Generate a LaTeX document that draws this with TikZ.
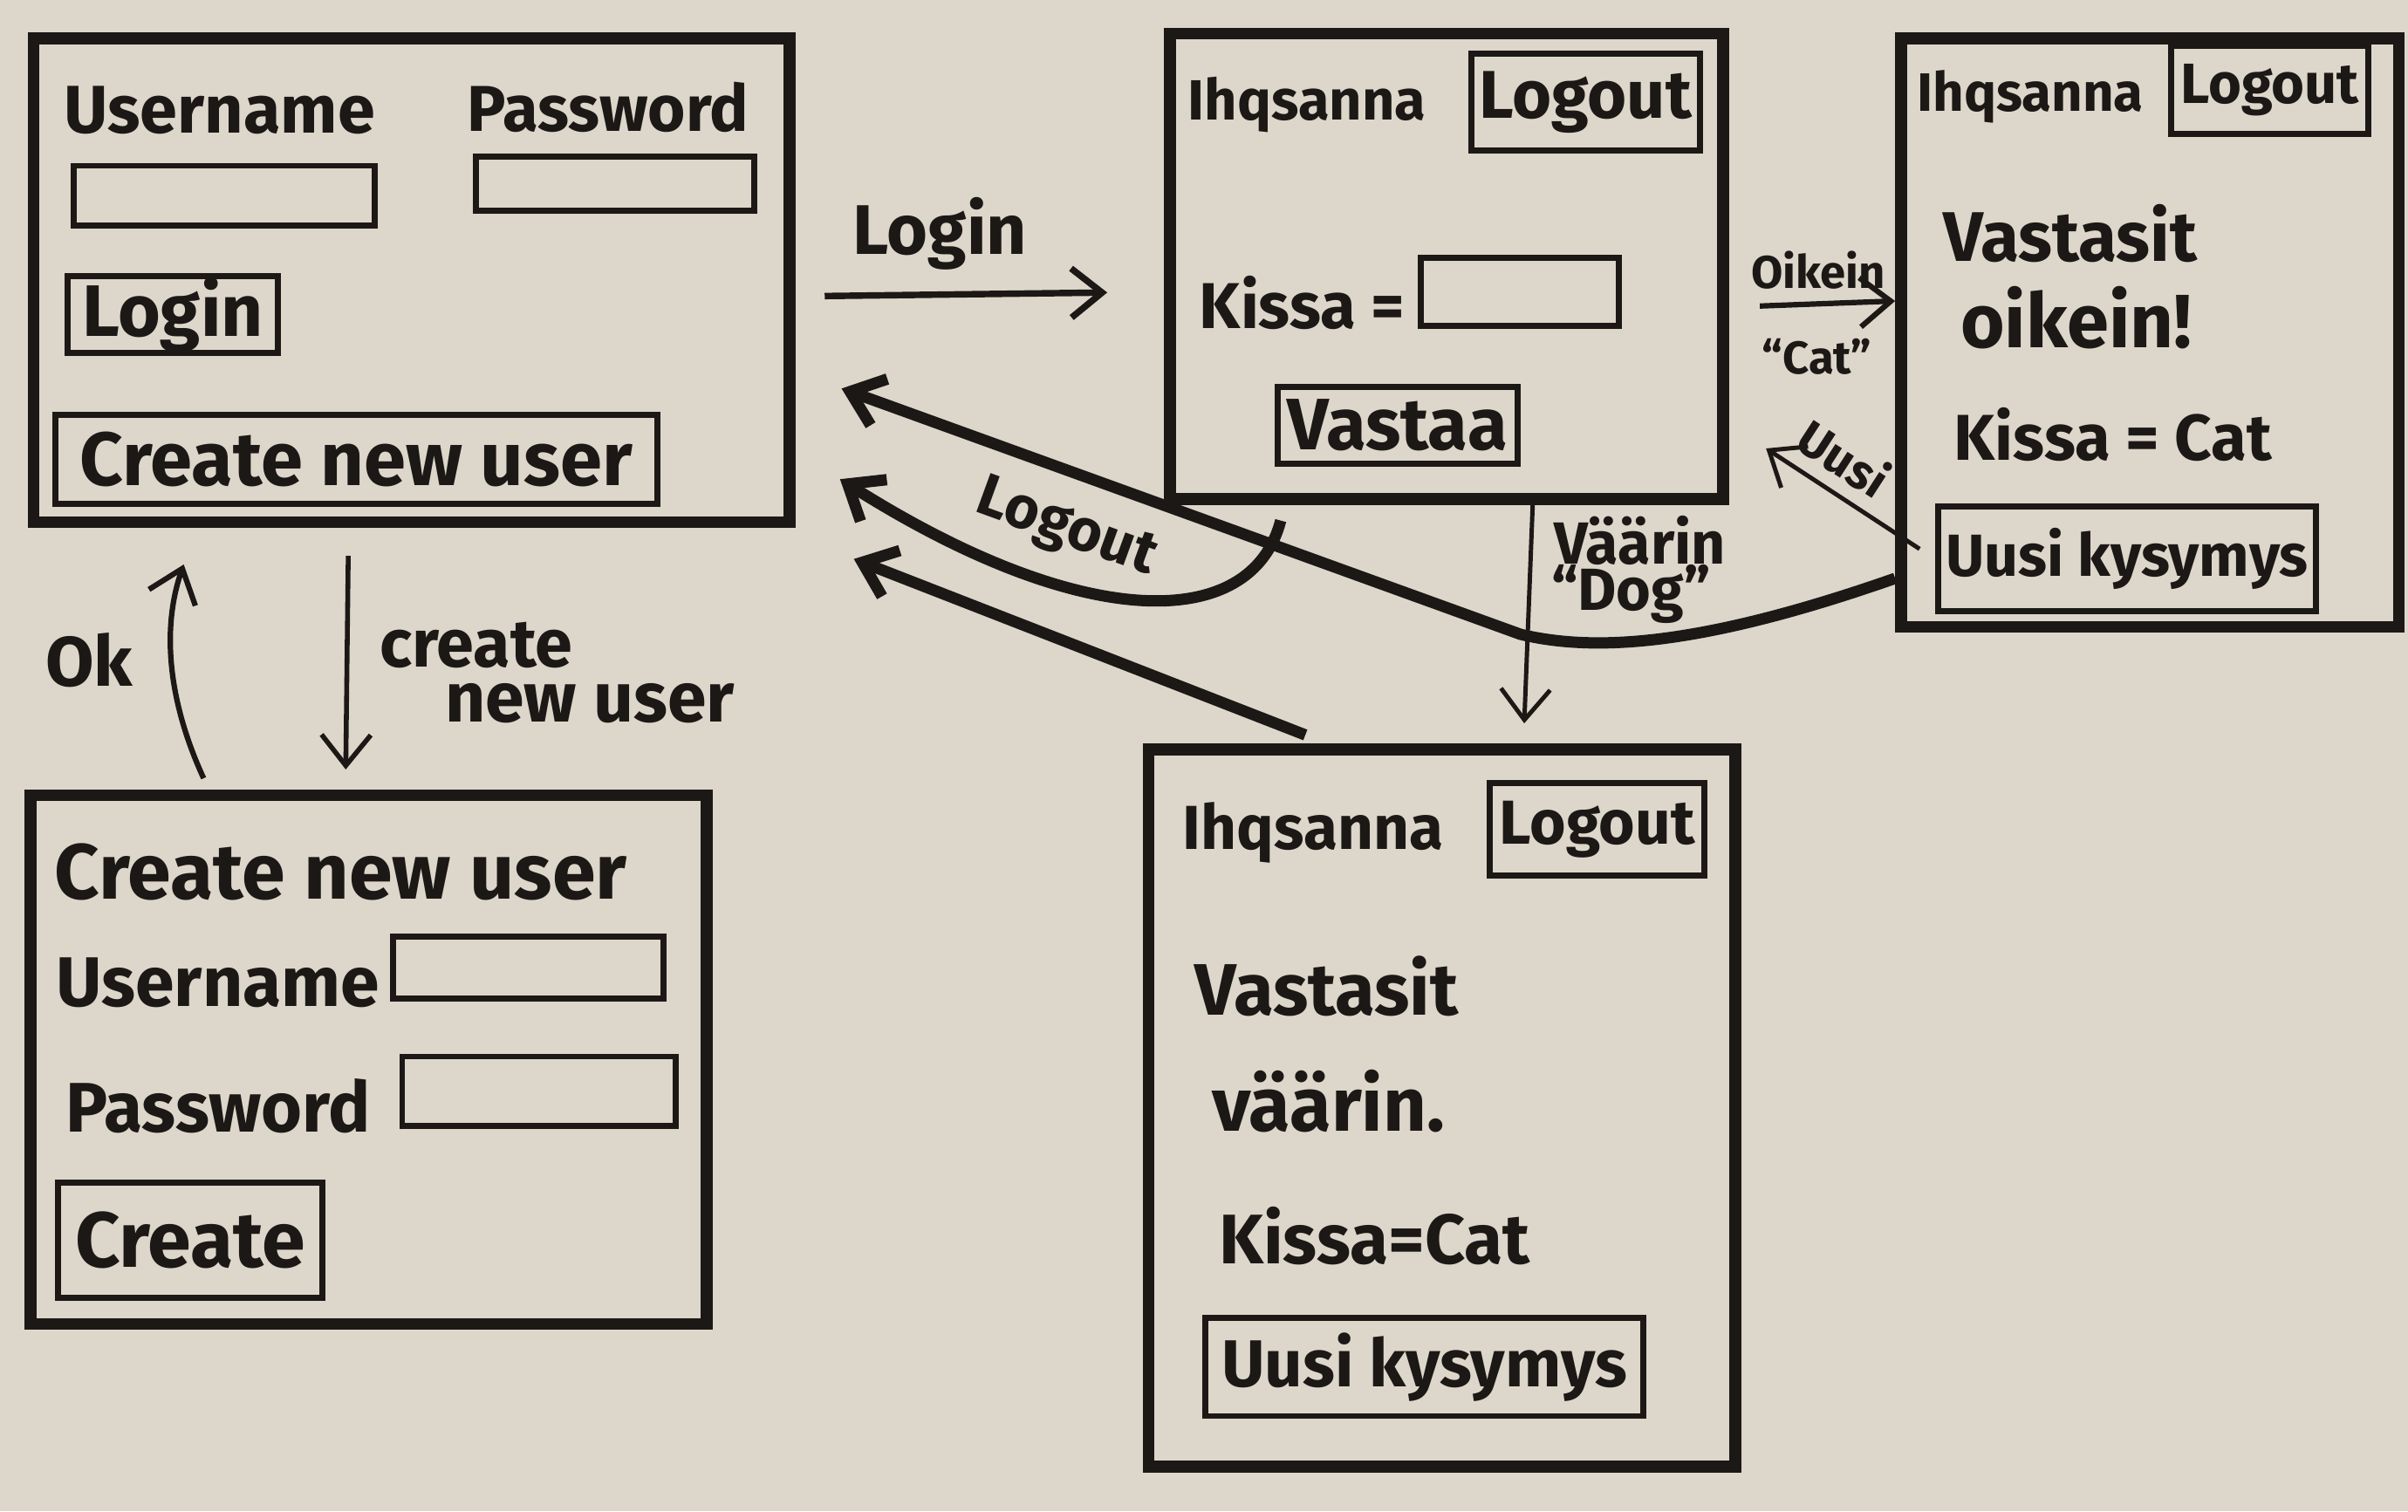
\documentclass[tikz,border=0pt]{standalone}
\usepackage{fontspec}
\setmainfont{Fira Sans}
\usetikzlibrary{arrows.meta,calc}
\definecolor{paper}{RGB}{221,214,202}
\definecolor{ink}{RGB}{28,24,22}
\newcommand{\fsz}[1]{\fontsize{#1}{#1}\selectfont}
\tikzset{
  screen/.style={draw=ink,line width=2.2pt,inner sep=0pt},
  field/.style={draw=ink,line width=1.1pt,inner sep=0pt,text=ink,font=\bfseries},
  txt/.style={text=ink,inner sep=0pt},
  flow/.style={draw=ink,line width=1pt,-{Straight Barb[length=2mm,width=3.2mm]}},
  heavy/.style={flow,line width=2.1pt},
}
\begin{document}
\begin{tikzpicture}[x=0.01cm,y=-0.01cm]
\fill[paper] (0,0) rectangle (1568,984);
\useasboundingbox (0,0) rectangle (1568,984);
% screens
\foreach \nm/\x/\y/\w/\h in {login/268/182.5/4.92/3.15, quiz/942/173.5/3.60/3.03,
  right/1400/216.5/3.24/3.83, wrong/939/721.5/3.82/4.67, newuser/240/690/4.40/3.44}
  \node[screen,minimum width=\w cm,minimum height=\h cm] (\nm) at (\x,\y) {};
% input fields
\foreach \nm/\x/\y/\w/\h in {userA/146/127.5/1.96/0.39, passA/400.5/119.5/1.81/0.35,
  kissaB/989.5/190/1.29/0.44, userE/344/630/1.76/0.40, passE/351/710.5/1.78/0.45}
  \node[field,minimum width=\w cm,minimum height=\h cm] (\nm) at (\x,\y) {};
% buttons
\foreach \nm/\x/\y/\w/\h/\fs/\txt in {loginbtn/112.5/205/1.37/0.50/13.5/Login,
  createbtn/232/299/3.92/0.58/14/Create new user,
  logoutB/1032.5/66.5/1.49/0.63/12.5/Logout, vastaa/910/277/1.56/0.50/13.5/Vastaa,
  logoutC/1478/58.5/1.28/0.57/10.5/Logout, uusiC/1385/364/2.46/0.68/11/Uusi kysymys,
  logoutD/1040/540/1.40/0.60/11.5/Logout, uusiD/927.5/890/2.85/0.64/12.3/Uusi kysymys,
  createE/124/807.5/1.72/0.75/14.5/Create}
  \node[field,minimum width=\w cm,minimum height=\h cm,font=\bfseries\fsz{\fs}] (\nm) at (\x,\y) {\txt};
% texts
\foreach \nm/\x/\y/\fs/\txt in {uA/143/72/12.5/Username, pA/396/70/12/Password,
  hB/851/68/10.5/Ihqsanna, kB/848/197/12/Kissa =,
  hC/1322/63/10/Ihqsanna, vC/1348/152/13/Vastasit, oC/1352/207/14/oikein!, kC/1376/283/12/Kissa = Cat,
  hD/855/542/11.5/Ihqsanna, vD/864/642/13.5/Vastasit, wD/865/717/14/väärin., kD/895/805/13/Kissa=Cat,
  tE/222/568/14.5/Create new user, uE/142/640/13/Username, pE/142/720/13/Password,
  lLogin/612/152/13/Login, lCreate/310/420/12.5/create, lNew/384/458/13/new user,
  lOk/58/430/13/Ok, lOik/1184/176/8.5/Oikein, lCat/1183/232/8.5/“Cat”,
  lVaar/1068/352/11/Väärin, lDog/1062/387/11/“Dog”}
  \node[txt,font=\bfseries\fsz{\fs}] (\nm) at (\x,\y) {\txt};
\node[txt,font=\bfseries\fsz{9},rotate=-33] (lUusi) at (1201,298) {Uusi};
\node[txt,font=\bfseries\fsz{11},rotate=-20] (lLogout) at (694,345) {Logout};
% free arrow tips
\coordinate (uusiTip) at (1150,292);
\coordinate (tipR) at (548,253);
\coordinate (tipQ) at (547,312);
\coordinate (tipW) at (556,364);
% connectors
\draw[flow,line width=1.2pt,shorten <=0.19cm,shorten >=0.37cm] ([yshift=-0.105cm]login.east) -- ([yshift=-0.165cm]quiz.west);
\draw[flow,line width=0.9pt,shorten <=0.18cm,shorten >=0.13cm] ([xshift=-0.41cm]login.south) -- ([xshift=-0.15cm]newuser.north);
\draw[flow,shorten <=0.08cm,shorten >=0.25cm] ([xshift=-1.04cm]newuser.north) to[bend left=22] ([xshift=-1.4cm]login.south);
\draw[flow,shorten <=0.2cm] ([yshift=-0.265cm]quiz.east) -- ([yshift=0.205cm]right.west);
\draw[flow,line width=0.8pt,shorten <=0.12cm] (uusiC.west) -- (uusiTip);
\draw[flow,line width=0.8pt,shorten >=0.13cm] ([xshift=0.56cm]quiz.south) -- ([xshift=0.53cm]wrong.north);
\draw[heavy] ([yshift=-1.6cm]right.west) .. controls (1110,420) and (1040,425) .. (990,413) -- (tipR);
\draw[heavy] ([xshift=-1.08cm,yshift=-0.1cm]quiz.south) .. controls (815,412) and (705,412) .. (tipQ);
\draw[heavy,shorten <=0.15cm] ([xshift=-0.75cm]wrong.north) -- (tipW);
\end{tikzpicture}
\end{document}
